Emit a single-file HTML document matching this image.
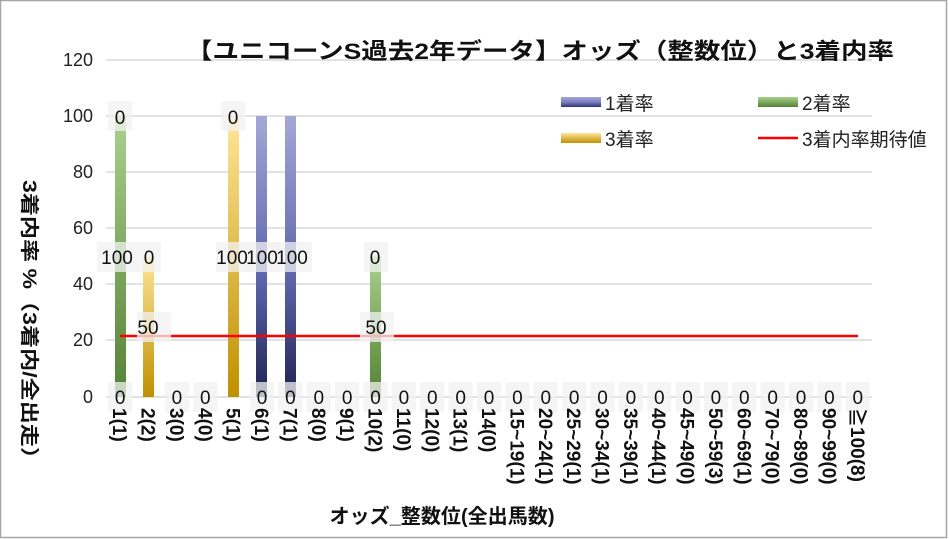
<!DOCTYPE html>
<html><head><meta charset="utf-8"><style>
html,body{margin:0;padding:0;background:#fff}
svg{display:block}
text{font-family:"Liberation Sans","Noto Sans CJK JP",sans-serif}
</style></head><body>
<svg width="949" height="539" viewBox="0 0 949 539" xmlns="http://www.w3.org/2000/svg">
<defs>
<linearGradient id="gb" x1="0" y1="0" x2="0" y2="1"><stop offset="0" stop-color="#a3a8d6"/><stop offset="0.6" stop-color="#5a62a8"/><stop offset="1" stop-color="#1f2250"/></linearGradient>
<linearGradient id="gg" x1="0" y1="0" x2="0" y2="1"><stop offset="0" stop-color="#a9d18e"/><stop offset="1" stop-color="#548235"/></linearGradient>
<linearGradient id="gy" x1="0" y1="0" x2="0" y2="1"><stop offset="0" stop-color="#ffe699"/><stop offset="1" stop-color="#bf9000"/></linearGradient>
<linearGradient id="lb" x1="0" y1="0" x2="0" y2="1"><stop offset="0" stop-color="#a3a8d6"/><stop offset="0.5" stop-color="#7a80c0"/><stop offset="1" stop-color="#2f3478"/></linearGradient>
<linearGradient id="lg" x1="0" y1="0" x2="0" y2="1"><stop offset="0" stop-color="#a9d18e"/><stop offset="1" stop-color="#548235"/></linearGradient>
<linearGradient id="ly" x1="0" y1="0" x2="0" y2="1"><stop offset="0" stop-color="#ffe699"/><stop offset="1" stop-color="#bf9000"/></linearGradient>
</defs>
<rect x="0.5" y="0.5" width="946" height="537" fill="#fff" stroke="#a6a6a6" stroke-width="1.5"/>
<g stroke="#d9d9d9" stroke-width="1.5">
<line x1="106" y1="60" x2="872" y2="60"/>
<line x1="106" y1="116" x2="872" y2="116"/>
<line x1="106" y1="172" x2="872" y2="172"/>
<line x1="106" y1="228" x2="872" y2="228"/>
<line x1="106" y1="284" x2="872" y2="284"/>
<line x1="106" y1="340" x2="872" y2="340"/>
<line x1="106" y1="397" x2="872" y2="397"/>
</g>
<g font-size="18" fill="#222" text-anchor="end">
<text x="93" y="66">120</text><text x="93" y="122">100</text><text x="93" y="178">80</text><text x="93" y="234">60</text><text x="93" y="290">40</text><text x="93" y="346">20</text><text x="93" y="403">0</text>
</g>
<text x="540" y="59" font-size="22.5" font-weight="bold" text-anchor="middle" fill="#111" textLength="708" lengthAdjust="spacingAndGlyphs">【ユニコーンS過去2年データ】オッズ（整数位）と3着内率</text>
<rect x="115" y="116" width="11" height="281" fill="url(#gg)"/>
<rect x="143" y="256.5" width="11" height="140.5" fill="url(#gy)"/>
<rect x="228" y="116" width="11" height="281" fill="url(#gy)"/>
<rect x="256" y="116" width="11" height="281" fill="url(#gb)"/>
<rect x="285" y="116" width="11" height="281" fill="url(#gb)"/>
<rect x="370" y="256.5" width="11" height="140.5" fill="url(#gg)"/>
<line x1="120" y1="336" x2="858" y2="336" stroke="#ff0000" stroke-width="2.5"/>
<g font-size="19" fill="#111" text-anchor="middle">
<g fill="#f2f2f2" fill-opacity="0.75">
<rect x="108" y="101" width="24" height="30"/><rect x="221" y="101" width="24" height="30"/>
<rect x="97" y="242" width="40" height="30"/><rect x="137" y="242" width="24" height="30"/>
<rect x="216" y="242" width="36" height="30"/><rect x="244" y="242" width="36" height="30"/><rect x="268" y="242" width="44" height="30"/>
<rect x="364" y="242" width="24" height="30"/>
<rect x="137" y="312" width="34" height="30"/><rect x="360" y="312" width="34" height="30"/>
</g>
<text x="120" y="124">0</text><text x="233" y="124">0</text>
<text x="117" y="264">100</text><text x="149" y="264">0</text>
<text x="232" y="264">100</text><text x="262" y="264">100</text><text x="292" y="264">100</text>
<text x="375" y="264">0</text>
<text x="148" y="334">50</text><text x="376" y="334">50</text>
</g>
<g id="zeros" font-size="19" fill="#111" text-anchor="middle"></g>
<g id="xl" font-size="19" font-weight="bold" fill="#111"></g>
<rect x="561" y="97" width="40" height="10" fill="url(#lb)"/>
<text x="605" y="110" font-size="19" fill="#222">1着率</text>
<rect x="758" y="97" width="40" height="10" fill="url(#lg)"/>
<text x="802" y="110" font-size="19" fill="#222">2着率</text>
<rect x="561" y="133" width="40" height="10" fill="url(#ly)"/>
<text x="605" y="146" font-size="19" fill="#222">3着率</text>
<line x1="758" y1="138" x2="798" y2="138" stroke="#ff0000" stroke-width="2.5"/>
<text x="802" y="146" font-size="19" fill="#222">3着内率期待値</text>
<text transform="translate(23,180) rotate(90)" font-size="19" font-weight="bold" fill="#111" textLength="290" lengthAdjust="spacingAndGlyphs">3着内率 %（3着内/全出走）</text>
<text x="442" y="523" font-size="20" font-weight="bold" text-anchor="middle" fill="#111" textLength="225" lengthAdjust="spacingAndGlyphs">オッズ_整数位(全出馬数)</text>
</svg>
<script>
var labs=["1(1)","2(2)","3(0)","4(0)","5(1)","6(1)","7(1)","8(0)","9(1)","10(2)","11(0)","12(0)","13(1)","14(0)","15~19(1)","20~24(1)","25~29(1)","30~34(1)","35~39(1)","40~44(1)","45~49(0)","50~59(3)","60~69(1)","70~79(0)","80~89(0)","90~99(0)","≧100(8)"];
var ns="http://www.w3.org/2000/svg",z=document.getElementById("zeros"),xl=document.getElementById("xl");
labs.forEach(function(l,i){
 var cx=120.2+28.37*i;
 if(i!=1&&i!=4){
 var r=document.createElementNS(ns,"rect");r.setAttribute("x",cx-12);r.setAttribute("y",382);r.setAttribute("width",24);r.setAttribute("height",30);r.setAttribute("fill","#f2f2f2");r.setAttribute("fill-opacity","0.75");z.appendChild(r);
 var t=document.createElementNS(ns,"text");t.setAttribute("x",cx);t.setAttribute("y",404);t.textContent="0";z.appendChild(t);}
 var s=document.createElementNS(ns,"text");s.setAttribute("transform","translate("+(cx-7)+",408) rotate(90)");s.textContent=l;xl.appendChild(s);
});
</script>
</body></html>
